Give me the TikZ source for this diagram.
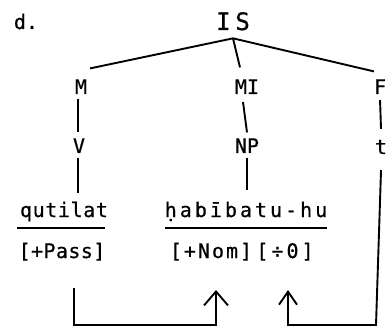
\documentclass[tikz,border=0pt]{standalone}
\usepackage{fontspec}
\newfontfamily\tw[FakeBold=0.6]{DejaVu Sans Mono}
\usetikzlibrary{arrows.meta}
\begin{document}
\begin{tikzpicture}[x=1pt,y=-1pt,
  lbl/.style={font=\tw\fontsize{20}{20}\selectfont, inner sep=0pt, outer sep=0pt, anchor=base},
  wd/.style={lbl, text height=14pt, text depth=4pt},
  ln/.style={line width=1.9pt},
  arrA/.style={ln, -{Straight Barb[length=14pt,width=24pt,line width=1.9pt]}},
  arrB/.style={ln, -{Straight Barb[length=13pt,width=18pt,line width=1.9pt]}}]
\useasboundingbox (0,0) rectangle (387,328);
% labels
\node[lbl] (d) at (26,29) {d.};
\node[lbl, font=\tw\fontsize{24}{24}\selectfont] (IS) at (233,30) {\addfontfeature{LetterSpace=20}IS};
\node[lbl] (M) at (81,94) {M};
\node[lbl] (MI) at (247,94) {MI};
\node[lbl, anchor=base west] (F) at (374,94) {F};
\node[lbl] (V) at (79,153) {V};
\node[lbl] (NP) at (247,153) {NP};
\node[lbl, anchor=base west] (t) at (375,154) {t};
\node[wd] (qut) at (64,217) {\addfontfeature{LetterSpace=3}qutilat};
\node[wd] (hab) at (246,217) {\addfontfeature{LetterSpace=15}ḥabībatu-hu};
\node[wd] (pass) at (62,258) {\addfontfeature{LetterSpace=2}[+Pass]};
\node[wd] (nom) at (211,258) {\addfontfeature{LetterSpace=10}[+Nom]};
\node[wd] (obj) at (285,258) {\addfontfeature{LetterSpace=15}[÷0]};
% tree edges
\draw[ln] ([yshift=-8pt]IS.south) -- ([xshift=9pt,yshift=11pt]M.north);
\draw[ln] ([yshift=-8pt]IS.south) -- ([xshift=-7pt,yshift=12pt]MI.north);
\draw[ln] ([yshift=-8pt]IS.south) -- ([xshift=-6pt,yshift=8pt]F.north);
\draw[ln] ([xshift=-3pt,yshift=-5pt]M.south) -- ([xshift=-1pt,yshift=6pt]V.north);
\draw[ln] ([xshift=-4pt,yshift=-8pt]MI.south) -- ([xshift=0pt,yshift=6pt]NP.north);
\draw[ln] ([yshift=-6pt]F.south) -- ([yshift=11pt]t.north);
\draw[ln] ([xshift=-1pt,yshift=-5pt]V.south) -- ([xshift=14pt,yshift=10pt]qut.north);
\draw[ln] ([xshift=0pt,yshift=-5pt]NP.south) -- ([xshift=1pt,yshift=13pt]hab.north);
% underlines
\draw[ln] ([xshift=-3pt,yshift=-7pt]qut.south west) -- ([xshift=-3pt,yshift=-7pt]qut.south east);
\draw[ln] ([yshift=-7pt]hab.south west) -- ([yshift=-7pt]hab.south east);
% bottom connectors
\coordinate (bl) at (145,325);
\coordinate (br) at (376,325);
\draw[arrA] ([xshift=12pt,yshift=-26pt]pass.south) |- (bl) -| ([xshift=5pt,yshift=-28pt]nom.south);
\draw[arrB] ([yshift=-16pt]t.south) -- (br) -| ([xshift=3pt,yshift=-28pt]obj.south);
\end{tikzpicture}
\end{document}
